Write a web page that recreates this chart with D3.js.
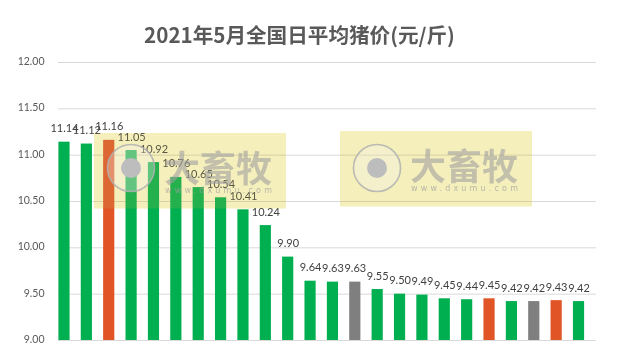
<!DOCTYPE html>
<html><head><meta charset="utf-8">
<script src="https://cdn.jsdelivr.net/npm/d3@7"></script>
<style>html,body{margin:0;padding:0;background:#fff}svg{display:block}</style>
</head><body><svg id="c" width="617" height="362"></svg>
<script>
const titleText = "2021年5月全国日平均猪价(元/斤)";
const categories = ["5/1","5/2","5/3","5/4","5/5","5/6","5/7","5/8","5/9","5/10","5/11","5/12","5/13","5/14","5/15","5/16","5/17","5/18","5/19","5/20","5/21","5/22","5/23","5/24"];
const prices = [11.14,11.12,11.16,11.05,10.92,10.76,10.65,10.54,10.41,10.24,9.90,9.64,9.63,9.63,9.55,9.50,9.49,9.45,9.44,9.45,9.42,9.42,9.43,9.42];
const kinds = ["g","g","o","g","g","g","g","g","g","g","g","g","g","k","g","g","g","g","g","o","g","k","o","g"];
const yTicks = [9,9.5,10,10.5,11,11.5,12];
const colors = {g:"#00b050",o:"#e05426",k:"#7f7f7f"};
const marks = [{x:94,y:133,cy:35},{x:340,y:131,cy:37}];

const svg = d3.select("#c");
const x = d3.scaleBand().domain(categories).range([52.8,589.7]).paddingInner(0.5).paddingOuter(0.25);
const y = d3.scaleLinear().domain([9,12]).range([340,62]);

svg.append("g").selectAll("line").data(yTicks).join("line")
  .attr("x1",58).attr("x2",596).attr("y1",d=>y(d)+.5).attr("y2",d=>y(d)+.5)
  .attr("stroke","#d9d9d9").attr("stroke-width",1);

const yAxis = d3.axisLeft(y).tickValues(yTicks).tickFormat(d3.format(".2f")).tickSize(0).tickPadding(0);
const ax = svg.append("g").attr("transform","translate(44.5,-1)").call(yAxis);
ax.select(".domain").remove();
ax.selectAll("text").attr("font-family","Lato, 'Noto Sans', sans-serif").attr("font-size",10.5).attr("fill","#595959");

svg.append("g").selectAll("rect").data(prices).join("rect")
  .attr("x",(d,i)=>x(categories[i])).attr("width",x.bandwidth())
  .attr("y",d=>y(d)).attr("height",d=>y(9)-y(d))
  .attr("fill",(d,i)=>colors[kinds[i]]);

svg.append("g").selectAll("text").data(prices).join("text")
  .attr("x",(d,i)=>x(categories[i])+x.bandwidth()/2+0.5)
  .attr("y",d=>y(d)-9.5)
  .attr("text-anchor","middle")
  .attr("font-family","Lato, 'Noto Sans', sans-serif").attr("font-size",11).attr("fill","#404040")
  .text(d=>d.toFixed(2));

svg.append("text").attr("x",299.5).attr("y",43).attr("text-anchor","middle")
  .attr("font-family","'Noto Sans CJK SC', sans-serif").attr("font-weight",700).attr("font-size",20.6).attr("fill","#595959")
  .text(titleText);

const defs = svg.append("defs");
defs.append("filter").attr("id","soft").append("feGaussianBlur").attr("stdDeviation",0.5);
const wm = svg.append("g").selectAll("g").data(marks).join("g")
  .attr("transform",d=>`translate(${d.x},${d.y})`);
wm.append("rect").attr("width",192).attr("height",75.5).attr("fill","#f5efbc").style("mix-blend-mode","multiply");
wm.append("rect").attr("width",192).attr("height",75.5).attr("fill","#f5efbc").attr("fill-opacity",0.15);
const icon = wm.append("g").attr("filter","url(#soft)");
icon.append("circle").attr("cx",37).attr("cy",d=>d.cy).attr("r",23.5).attr("fill","#f2f2f2").attr("fill-opacity",0.3).attr("stroke","#b0b0b0").attr("stroke-opacity",0.85).attr("stroke-width",1.6);
icon.append("circle").attr("cx",37).attr("cy",d=>d.cy).attr("r",10).attr("fill","#c0c0c0").style("mix-blend-mode","multiply");
wm.append("text").attr("x",70).attr("y",49).attr("font-family","'Noto Sans CJK SC', sans-serif").attr("font-weight",700).attr("font-size",36)
  .attr("fill","#a0a0a0").attr("fill-opacity",0.6).attr("textLength",108).text("大畜牧");
wm.append("text").attr("x",71).attr("y",60).attr("font-family","'DejaVu Sans', sans-serif").attr("font-size",8)
  .attr("fill","#a0a0a0").attr("fill-opacity",0.7).attr("textLength",107).text("www.dxumu.com");
</script></body></html>
